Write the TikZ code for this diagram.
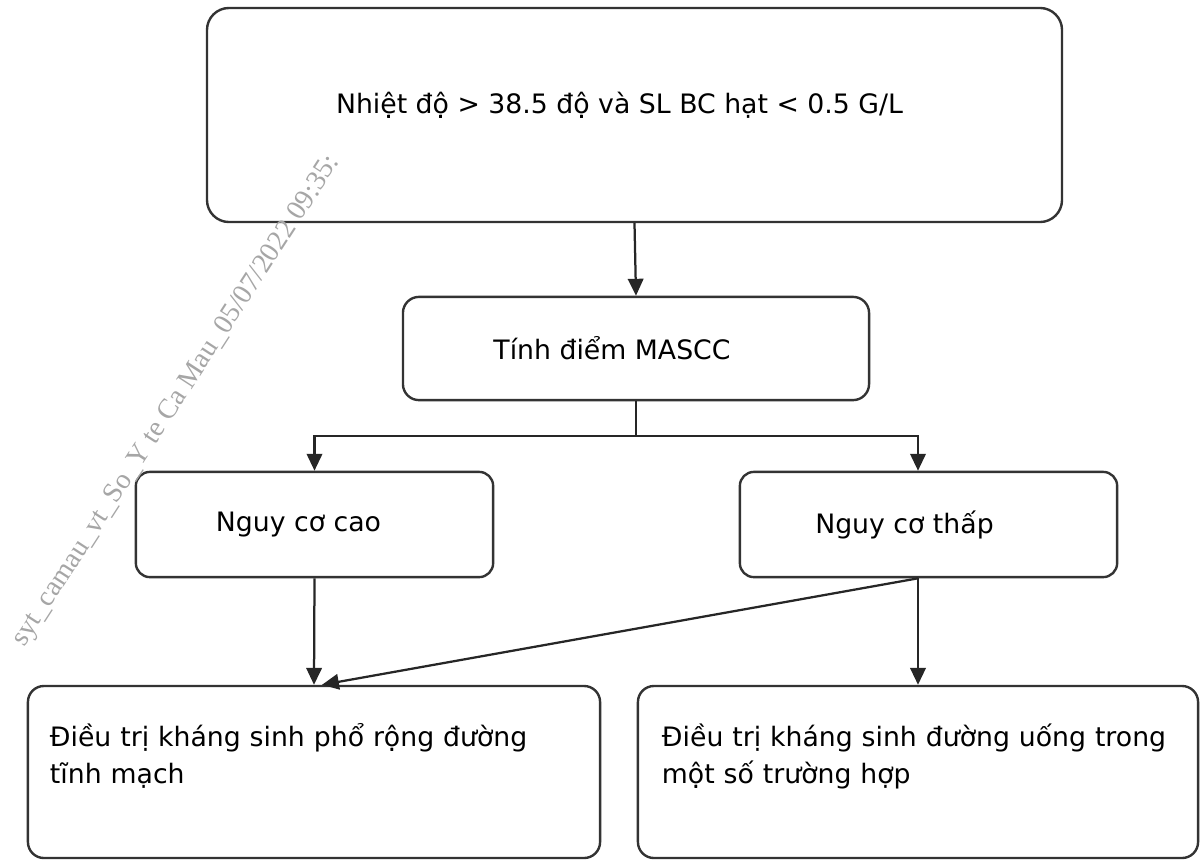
\documentclass[tikz,border=0pt]{standalone}
\usepackage{fontspec}
\setmainfont{DejaVu Sans}
\newfontfamily\wmfont{Liberation Serif}
\usetikzlibrary{arrows.meta,positioning}

\begin{document}
\begin{tikzpicture}[x=0.025cm, y=-0.025cm,
    box/.style={draw=black!80, line width=1.7pt, rounded corners=0.4cm, fill=white, align=center, font=\fontsize{19}{26}\selectfont, inner sep=0pt},
    txtbox/.style={box, align=left, inner ysep=0pt},
    flow/.style={-{Triangle[length=12pt, width=11pt]}, line width=1.6pt, draw=black!85},
    wmtext/.style={text=black!35, font=\wmfont\fontsize{20}{24}\selectfont, inner sep=0pt}
]
\useasboundingbox (0,0) rectangle (1202,862);

% Criteria and scoring
\node[box, rounded corners=0.55cm, minimum width=21.37cm, minimum height=5.35cm, text depth=0.62cm] (crit) at (634.5,115) {Nhiệt độ > 38.5 độ và SL BC hạt < 0.5 G/L\hspace*{0.75cm}};
\node[box, minimum width=11.65cm, minimum height=2.58cm] (mascc) at (636,348.5) {Tính điểm MASCC\hspace*{1.2cm}};

% Risk groups
\node[box, rounded corners=0.35cm, minimum width=8.93cm, minimum height=2.63cm] (cao) at (314.5,524.5) {Nguy cơ cao\hspace*{0.8cm}};
\node[box, rounded corners=0.35cm, minimum width=9.43cm, minimum height=2.63cm] (thap) at (928.5,524.5) {Nguy cơ thấp\hspace*{1.2cm}};

% Treatments (empty third line keeps the text near the top)
\node[txtbox, text width=13.2cm, inner xsep=0.55cm, minimum height=4.3cm] (tmach) at (314,772) {Điều trị kháng sinh phổ rộng đường\\tĩnh mạch\\\mbox{}};
\node[txtbox, text width=12.8cm, inner xsep=0.6cm, minimum height=4.3cm] (uong) at (918,772) {Điều trị kháng sinh đường uống trong\\một số trường hợp\\\mbox{}};

% Connectors
\coordinate (split) at (636,436);
\draw[flow] (crit.south) -- (mascc.north);
\draw[line width=1.6pt, draw=black!85] (mascc.south) -- (split);
\draw[flow] (split) -| (cao.north);
\draw[flow] (split) -| (uong.north |- thap.north);
\draw[flow] (cao.south) -- (tmach.north);
\draw[flow] (uong.north |- thap.south) -- (uong.north);
\draw[flow] (uong.north |- thap.south) -- ([xshift=0.2cm]tmach.north);

% Watermark
\node[wmtext, rotate=57, anchor=base west] (wm) at (24,648) {syt\_camau\_vt\_So\_Y te Ca Mau\_05/07/2022 09:35:};

\end{tikzpicture}
\end{document}
